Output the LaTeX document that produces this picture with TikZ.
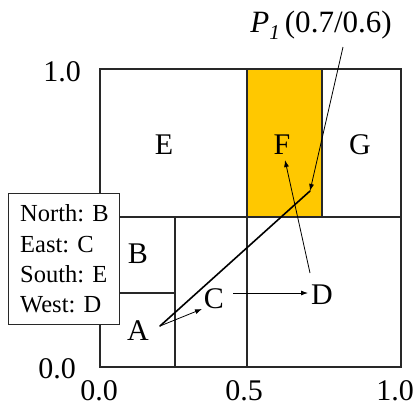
\documentclass[tikz,border=0pt]{standalone}
\usepackage{fontspec}
\setmainfont{Liberation Serif}
\usetikzlibrary{arrows.meta}
\definecolor{fcell}{RGB}{255,200,0}
\definecolor{gline}{RGB}{40,40,40}
\tikzset{
  grid/.style={draw=gline, line width=1.3pt},
  cell/.style={font=\fontsize{30}{30}\selectfont, inner sep=0pt},
  axis/.style={font=\fontsize{30}{30}\selectfont, inner sep=0pt},
  arr/.style={-{Latex[length=7pt,width=5pt]}, line width=0.8pt},
  path/.style={line width=1.6pt, line cap=round},
}
\begin{document}
\begin{tikzpicture}[x=1pt,y=-1pt]
\useasboundingbox (0,0) rectangle (417,407);
% cells
\fill[fcell] (247,69) rectangle (322,217);
\draw[grid] (100,69) rectangle (401,367);
\draw[grid] (247,69) -- (247,367);
\draw[grid] (100,217) -- (401,217);
\draw[grid] (322,69) -- (322,217);
\draw[grid] (175,217) -- (175,367);
\draw[grid] (100,293) -- (175,293);
% cell labels
\node[cell] (nE) at (164,145) {E};
\node[cell] (nF) at (282,145) {F};
\node[cell] (nG) at (360,145) {G};
\node[cell] (nB) at (138,254) {B};
\node[cell] (nA) at (138,331) {A};
\node[cell] (nC) at (214,299) {C};
\node[cell] (nD) at (322,295) {D};
% axis labels
\node[axis] (y1) at (62,72) {1.0};
\node[axis] (y0) at (57,369) {0.0};
\node[axis] (x0) at (99,391) {0.0};
\node[axis] (x5) at (244,391) {0.5};
\node[axis] (x1) at (395,391) {1.0};
% legend
\node[draw=gline, line width=1.3pt, fill=white, anchor=north west, minimum width=111pt, minimum height=131pt, inner sep=0pt] (legend) at (8,193) {};
\node[anchor=west, inner sep=0pt, align=left, font=\fontsize{24.5}{30.3}\selectfont] (legtext) at (20,259) {North: B\\East: C\\South: E\\West: D};
% P1 label
\node[inner sep=0pt, font=\fontsize{31}{31}\selectfont] (p1) at (321,25) {\textit{P}\raisebox{-0.22em}{\fontsize{21}{21}\selectfont\textit{1}}\,(0.7/0.6)};
% connector endpoints
\coordinate (pA) at (160,326);
\coordinate (pP) at (310,191);
\coordinate (pC) at (202,309);
\coordinate (cE) at (233,293);
\coordinate (dW) at (308,293);
\coordinate (dN) at (310,273);
\coordinate (fS) at (285,160);
\coordinate (lbl) at (343,47);
% connectors
\draw[path] (pA) -- (pP);
\draw[arr] (lbl) -- (pP);
\draw[arr] (pA) -- (pC);
\draw[arr] (cE) -- (dW);
\draw[arr] (dN) -- (fS);
\end{tikzpicture}
\end{document}
